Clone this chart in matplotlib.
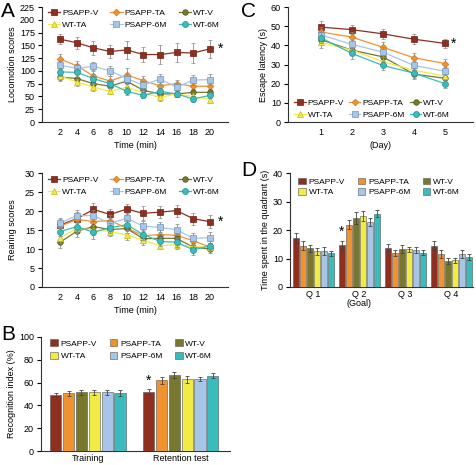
import numpy as np
import matplotlib
matplotlib.use("Agg")
import matplotlib.pyplot as plt

plt.rcParams['font.family'] = ['Liberation Sans', 'DejaVu Sans']
plt.rcParams['font.size'] = 6.5

# === Data ===
groups = ['PSAPP-V', 'PSAPP-TA', 'WT-V', 'WT-TA', 'PSAPP-6M', 'WT-6M']
colors = ['#8e2f1f', '#ee9330', '#77772f', '#f2ea45', '#a7c5e6', '#3bbcbc']
edges = ['#6a1f14', '#c87420', '#55551f', '#c8b820', '#6f95c0', '#1f8f8f']
markers = ['s', 'D', 'o', '^', 's', 'o']
msizes = [4.3, 3.4, 4.0, 4.0, 5.0, 4.3]

minutes = [2, 4, 6, 8, 10, 12, 14, 16, 18, 20]
loco = [
    [162, 155, 145, 138, 141, 132, 132, 136, 135, 143],
    [123, 110, 90, 80, 92, 81, 71, 75, 70, 70],
    [88, 85, 75, 70, 80, 62, 55, 55, 58, 58],
    [90, 78, 68, 60, 68, 57, 48, 55, 50, 44],
    [111, 105, 109, 100, 85, 72, 84, 68, 82, 83],
    [98, 97, 85, 75, 60, 52, 60, 55, 45, 52],
]
loco_err = [
    [10, 12, 13, 13, 18, 15, 18, 18, 20, 18],
    [10, 10, 10, 10, 14, 9, 9, 8, 8, 8],
    [8, 8, 8, 8, 10, 8, 7, 7, 7, 7],
    [8, 7, 7, 6, 8, 7, 6, 6, 6, 6],
    [8, 8, 8, 10, 10, 9, 9, 8, 10, 10],
    [8, 8, 8, 8, 8, 6, 7, 7, 6, 6],
]

rear = [
    [16.3, 18.0, 20.4, 19.1, 20.5, 19.4, 19.7, 20.1, 18.0, 17.2],
    [16.0, 17.8, 17.2, 17.5, 15.5, 13.5, 13.8, 13.6, 12.2, 10.5],
    [11.8, 14.7, 15.9, 15.1, 15.4, 12.7, 12.8, 12.8, 10.5, 10.0],
    [12.8, 15.5, 15.0, 14.6, 13.7, 12.3, 10.9, 11.1, 10.6, 10.5],
    [16.8, 18.8, 18.8, 16.7, 18.1, 16.0, 15.7, 15.1, 12.8, 13.0],
    [14.6, 15.9, 14.4, 15.6, 16.4, 13.8, 12.0, 11.8, 9.8, 10.8],
]
rear_err = [
    [1.5, 1.8, 1.8, 1.5, 1.3, 1.8, 1.5, 1.6, 1.6, 1.8],
    [1.2, 1.5, 1.5, 1.5, 1.3, 1.3, 1.2, 1.2, 1.2, 1.0],
    [1.5, 1.5, 1.5, 1.3, 1.3, 1.2, 1.2, 1.2, 1.0, 1.0],
    [1.2, 1.3, 1.3, 1.2, 1.2, 1.2, 1.0, 1.0, 1.0, 1.0],
    [1.3, 1.4, 1.4, 1.5, 1.5, 1.5, 1.3, 1.5, 1.5, 1.5],
    [1.3, 1.3, 1.8, 1.3, 1.3, 1.3, 1.2, 1.2, 1.3, 1.2],
]

days = [1, 2, 3, 4, 5]
latency = [
    [49.5, 48.2, 46.0, 43.2, 41.0],
    [47.0, 44.3, 39.0, 33.5, 30.5],
    [43.0, 37.5, 34.0, 25.0, 22.8],
    [41.5, 37.5, 31.5, 27.0, 24.0],
    [45.5, 40.5, 36.5, 29.5, 26.5],
    [44.0, 35.8, 29.5, 25.5, 20.0],
]
latency_err = [
    [3.0, 2.5, 2.5, 2.5, 2.2],
    [2.5, 2.5, 2.5, 2.5, 2.5],
    [3.0, 2.5, 2.5, 2.5, 2.0],
    [3.0, 2.5, 2.5, 2.5, 2.0],
    [3.0, 2.5, 2.5, 2.5, 2.0],
    [3.0, 3.0, 2.5, 2.5, 2.0],
]

phases = ['Training', 'Retention test']
recog = [
    [49.0, 51.5],
    [50.5, 62.0],
    [51.5, 66.5],
    [51.5, 63.0],
    [51.5, 63.0],
    [51.0, 66.0],
]
recog_err = [
    [2.0, 2.5],
    [2.0, 3.0],
    [2.0, 2.5],
    [2.0, 3.0],
    [2.0, 2.0],
    [2.5, 2.0],
]

quads = ['Q 1', 'Q 2\n(Goal)', 'Q 3', 'Q 4']
quad_time = [
    [17.2, 14.7, 13.8, 14.5],
    [14.5, 21.8, 12.0, 11.7],
    [13.6, 24.2, 13.2, 9.1],
    [12.5, 24.9, 13.2, 9.3],
    [12.5, 22.8, 13.1, 11.7],
    [11.8, 25.7, 12.1, 10.5],
]
quad_err = [
    [1.6, 1.6, 1.4, 1.6],
    [1.6, 1.6, 1.0, 1.4],
    [1.2, 2.0, 1.4, 1.0],
    [1.2, 1.6, 1.0, 1.0],
    [1.4, 1.4, 1.0, 1.4],
    [1.0, 1.2, 1.0, 1.2],
]

# legend is read row by row (3 per row); matplotlib fills columns first
leg_order = [0, 3, 1, 4, 2, 5]

W, H = 477, 465
fig = plt.figure(figsize=(W / 100, H / 100), dpi=100)


def px_axes(left, top, right, bottom):
    return fig.add_axes([left / W, 1 - bottom / H, (right - left) / W, (bottom - top) / H])


def style(ax):
    for s in ['top', 'right']:
        ax.spines[s].set_visible(False)
    for s in ['left', 'bottom']:
        ax.spines[s].set_linewidth(0.8)
        ax.spines[s].set_color('#333333')
    ax.tick_params(axis='y', length=3, width=0.8, pad=2, labelsize=6.5)
    ax.tick_params(axis='x', length=0, pad=4, labelsize=6.5)


def line_panel(ax, x, data, err):
    for i in range(len(groups)):
        ax.errorbar(x, data[i], yerr=err[i], color=colors[i], ecolor='#8a8a8a',
                    elinewidth=0.6, capsize=1.5, capthick=0.6, lw=0.9,
                    marker=markers[i], ms=msizes[i], mfc=colors[i], mec=edges[i],
                    mew=0.5, zorder=3 + i)
    style(ax)


def line_legend(ax, loc, anchor, colsp, hlen):
    handles = [plt.Line2D([], [], color=colors[i], marker=markers[i], ms=msizes[i],
                          mfc=colors[i], mec=edges[i], mew=0.5, lw=0.9)
               for i in leg_order]
    ax.legend(handles, [groups[i] for i in leg_order], ncol=3, loc=loc,
              bbox_to_anchor=anchor, frameon=False, fontsize=6, handlelength=hlen,
              handletextpad=0.25, columnspacing=colsp, labelspacing=0.45, borderaxespad=0,
              borderpad=0)


def bar_panel(ax, ncat, data, err, pitch, width):
    bars = []
    for i in range(len(groups)):
        xs = np.arange(ncat) + (i - 2.5) * pitch
        b = ax.bar(xs, data[i], width, color=colors[i], edgecolor='#555555', lw=0.4,
                   yerr=err[i], ecolor='#444444', capsize=1.3,
                   error_kw=dict(elinewidth=0.6, capthick=0.6), zorder=3)
        bars.append(b)
    style(ax)
    return bars


def bar_legend(ax, bars, anchor, colsp, lsp):
    ax.legend([bars[i] for i in leg_order], [groups[i] for i in leg_order], ncol=3,
              loc='upper left', bbox_to_anchor=anchor, frameon=False, fontsize=6,
              handlelength=0.9, handleheight=0.9, handletextpad=0.35, columnspacing=colsp,
              labelspacing=lsp, borderaxespad=0, borderpad=0)


# === A: locomotion ===
ax = px_axes(42, 7, 228, 122)
line_panel(ax, minutes, loco, loco_err)
ax.set_xlim(-0.2, 22.2)
ax.set_ylim(0, 225)
ax.set_yticks(range(0, 226, 25))
ax.set_xticks(minutes)
ax.set_ylabel('Locomotion scores', fontsize=6.5, labelpad=2)
ax.set_xlabel('Time (min)', fontsize=6.5, labelpad=3)
ax.text(21.0, loco[0][-1], '*', fontsize=10, va='center', ha='left')
line_legend(ax, 'upper left', (0.03, 0.98), 1.4, 1.5)

# === A: rearing ===
ax = px_axes(42, 173, 228, 287)
line_panel(ax, minutes, rear, rear_err)
ax.set_xlim(-0.2, 22.2)
ax.set_ylim(0, 30)
ax.set_yticks(range(0, 31, 5))
ax.set_xticks(minutes)
ax.set_ylabel('Rearing scores', fontsize=6.5, labelpad=6)
ax.set_xlabel('Time (min)', fontsize=6.5, labelpad=3)
ax.text(21.0, rear[0][-1], '*', fontsize=10, va='center', ha='left')
line_legend(ax, 'upper left', (0.03, 0.97), 1.4, 1.5)

# === B: recognition index ===
ax = px_axes(41, 337, 230, 451)
bars = bar_panel(ax, 2, recog, recog_err, 0.138, 0.12)
ax.set_xlim(-0.505, 1.53)
ax.set_ylim(0, 100)
ax.set_yticks(range(0, 101, 20))
ax.set_xticks(range(2))
ax.set_xticklabels(phases)
ax.tick_params(axis='x', pad=2)
ax.set_ylabel('Recognition index (%)', fontsize=6.5, labelpad=2)
ax.text(1 - 2.5 * 0.138, recog[0][1] + recog_err[0][1] + 1.5, '*', fontsize=10,
        ha='center', va='bottom')
bar_legend(ax, bars, (0.05, 0.98), 1.5, 0.5)

# === C: escape latency ===
ax = px_axes(288, 7, 473, 122)
line_panel(ax, days, latency, latency_err)
ax.set_xlim(-0.05, 5.9)
ax.set_ylim(0, 60)
ax.set_yticks(range(0, 61, 10))
ax.set_xticks(days)
ax.set_ylabel('Escape latency (s)', fontsize=6.5, labelpad=2)
ax.set_xlabel('(Day)', fontsize=6.5, labelpad=3)
ax.text(5.2, latency[0][-1], '*', fontsize=10, va='center', ha='left')
line_legend(ax, 'lower left', (0.035, 0.03), 0.6, 1.35)

# === D: time in quadrant ===
ax = px_axes(290, 173, 473, 287)
bars = bar_panel(ax, 4, quad_time, quad_err, 0.152, 0.13)
ax.set_xlim(-0.5, 3.47)
ax.set_ylim(0, 40)
ax.set_yticks(range(0, 41, 10))
ax.set_xticks(range(4))
ax.set_xticklabels(quads, linespacing=1.0)
ax.tick_params(axis='x', pad=2)
ax.set_ylabel('Time spent in the quadrant (s)', fontsize=6.5, labelpad=2)
ax.text(1 - 2.5 * 0.152, quad_time[0][1] + quad_err[0][1] + 0.5, '*', fontsize=10,
        ha='center', va='bottom')
bar_legend(ax, bars, (0.045, 0.96), 1.5, 0.25)

# === panel letters ===
for letter, x, y in [('A', 1, 2), ('B', 1, 325), ('C', 241, 2), ('D', 241, 161)]:
    fig.text(x / W, 1 - y / H, letter, fontsize=15, va='top', ha='left')

fig.savefig('out.png', dpi=100)
